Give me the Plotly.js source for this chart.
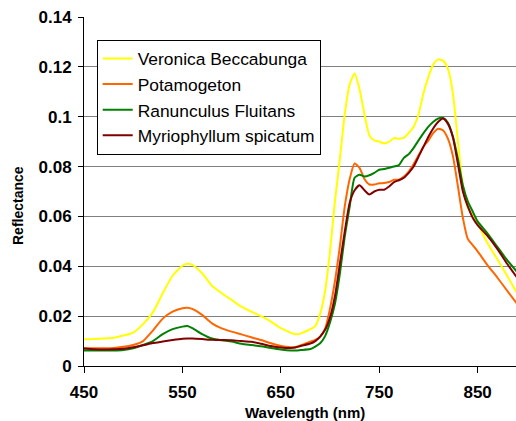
<!DOCTYPE html>
<html>
<head>
<meta charset="utf-8">
<script src="https://cdn.plot.ly/plotly-3.0.1.min.js"></script>
<style>
  html, body { margin: 0; padding: 0; background: #fff; }
  #chart { width: 516px; height: 421px; }
</style>
</head>
<body>
<div id="chart"></div>
<script>
// Wavelength (nm)
const wavelength = [450,460,470,480,490,500,510,520,530,540,550,555,560,570,580,590,600,610,620,630,640,650,660,665,670,680,685,690,695,700,705,710,715,720,725,730,735,740,745,750,755,760,765,770,775,780,785,790,795,800,805,810,815,820,825,830,835,840,845,850,860,870,880,890];

const seriesNames = ["Veronica Beccabunga", "Potamogeton", "Ranunculus Fluitans", "Myriophyllum spicatum"];

const veronica = [0.0107,0.0108,0.0110,0.0113,0.0122,0.0134,0.0168,0.0215,0.0292,0.0362,0.0402,0.0410,0.0406,0.0372,0.0322,0.0292,0.0265,0.0238,0.0218,0.0200,0.0178,0.0152,0.0134,0.0127,0.0130,0.0148,0.0160,0.0210,0.0300,0.0460,0.0660,0.0830,0.1010,0.1130,0.1173,0.1110,0.1010,0.0925,0.0905,0.0900,0.0893,0.0900,0.0914,0.0912,0.0915,0.0935,0.0960,0.1010,0.1095,0.1160,0.1210,0.1230,0.1225,0.1190,0.1090,0.0900,0.0720,0.0635,0.0605,0.0573,0.0493,0.0428,0.0362,0.0292];

const potamogeton = [0.0071,0.0071,0.0071,0.0072,0.0077,0.0084,0.0100,0.0142,0.0190,0.0218,0.0232,0.0234,0.0229,0.0205,0.0171,0.0151,0.0138,0.0127,0.0115,0.0104,0.0091,0.0080,0.0075,0.0076,0.0082,0.0098,0.0105,0.0118,0.0150,0.0230,0.0340,0.0480,0.0640,0.0750,0.0812,0.0795,0.0750,0.0728,0.0728,0.0733,0.0734,0.0738,0.0747,0.0747,0.0760,0.0780,0.0810,0.0845,0.0880,0.0905,0.0935,0.0952,0.0945,0.0910,0.0840,0.0720,0.0595,0.0510,0.0485,0.0460,0.0405,0.0355,0.0302,0.0250];

const ranunculus = [0.0062,0.0062,0.0062,0.0062,0.0064,0.0071,0.0084,0.0100,0.0128,0.0148,0.0158,0.0160,0.0152,0.0128,0.0110,0.0103,0.0098,0.0089,0.0084,0.0079,0.0072,0.0066,0.0062,0.0062,0.0064,0.0068,0.0078,0.0091,0.0120,0.0175,0.0250,0.0370,0.0520,0.0640,0.0755,0.0767,0.0760,0.0765,0.0775,0.0787,0.0790,0.0795,0.0800,0.0806,0.0835,0.0850,0.0875,0.0905,0.0934,0.0960,0.0980,0.0993,0.0995,0.0975,0.0920,0.0830,0.0725,0.0660,0.0620,0.0580,0.0532,0.0478,0.0425,0.0378];

const myriophyllum = [0.0070,0.0067,0.0066,0.0067,0.0069,0.0075,0.0083,0.0092,0.0098,0.0104,0.0109,0.0110,0.0110,0.0108,0.0105,0.0104,0.0103,0.0100,0.0097,0.0089,0.0080,0.0074,0.0072,0.0074,0.0080,0.0090,0.0100,0.0118,0.0145,0.0195,0.0280,0.0410,0.0540,0.0655,0.0705,0.0725,0.0705,0.0688,0.0700,0.0707,0.0707,0.0720,0.0738,0.0745,0.0755,0.0775,0.0800,0.0840,0.0880,0.0920,0.0954,0.0980,0.0993,0.0970,0.0915,0.0810,0.0700,0.0640,0.0595,0.0565,0.0522,0.0470,0.0410,0.0355];

const colors = ["#FFFF00", "#FF6600", "#008000", "#800000"];
const allValues = [veronica, potamogeton, ranunculus, myriophyllum];

const traces = allValues.map((vals, i) => ({
  type: "scatter",
  mode: "lines",
  x: wavelength,
  y: vals,
  name: seriesNames[i],
  line: { color: colors[i], width: 2, shape: "spline", smoothing: 0.6 }
}));

const tickFont = { family: "Arial, 'Liberation Sans', sans-serif", size: 17, color: "#000", weight: "bold" };

const layout = {
  width: 516,
  height: 421,
  margin: { l: 84, r: 0, t: 17, b: 55 },
  paper_bgcolor: "#fff",
  plot_bgcolor: "#fff",
  showlegend: true,
  legend: {
    x: 0.0294, y: 0.935, xanchor: "left", yanchor: "top",
    bgcolor: "#fff",
    bordercolor: "#000",
    borderwidth: 1,
    font: { family: "Arial, 'Liberation Sans', sans-serif", size: 17.4, color: "#000" }
  },
  xaxis: {
    range: [450, 889],
    tickmode: "linear",
    tick0: 450,
    dtick: 100,
    ticks: "outside",
    ticklen: 6,
    tickcolor: "#000",
    ticklabelstandoff: 5,
    showline: true,
    linecolor: "#000",
    linewidth: 1,
    showgrid: false,
    zeroline: false,
    tickfont: tickFont,
    title: { text: "" }
  },
  yaxis: {
    range: [0, 0.14],
    tickmode: "linear",
    tick0: 0,
    dtick: 0.02,
    ticks: "outside",
    ticklen: 5,
    tickcolor: "#000",
    ticklabelstandoff: 3,
    showline: true,
    linecolor: "#000",
    linewidth: 1,
    showgrid: true,
    gridcolor: "#808080",
    gridwidth: 1,
    zeroline: false,
    tickfont: tickFont,
    title: { text: "" }
  },
  annotations: [
    {
      text: "Wavelength (nm)",
      xref: "paper", yref: "paper",
      x: 0.5116, y: -0.132,
      xanchor: "center", yanchor: "middle",
      showarrow: false,
      font: { family: "Arial, 'Liberation Sans', sans-serif", size: 15, color: "#000", weight: "bold" }
    },
    {
      text: "Reflectance",
      xref: "paper", yref: "paper",
      x: -0.153, y: 0.461,
      xanchor: "center", yanchor: "middle",
      textangle: -90,
      showarrow: false,
      font: { family: "Arial, 'Liberation Sans', sans-serif", size: 14, color: "#000", weight: "bold" }
    }
  ]
};

Plotly.newPlot("chart", traces, layout, { staticPlot: true, displayModeBar: false });
</script>
</body>
</html>
